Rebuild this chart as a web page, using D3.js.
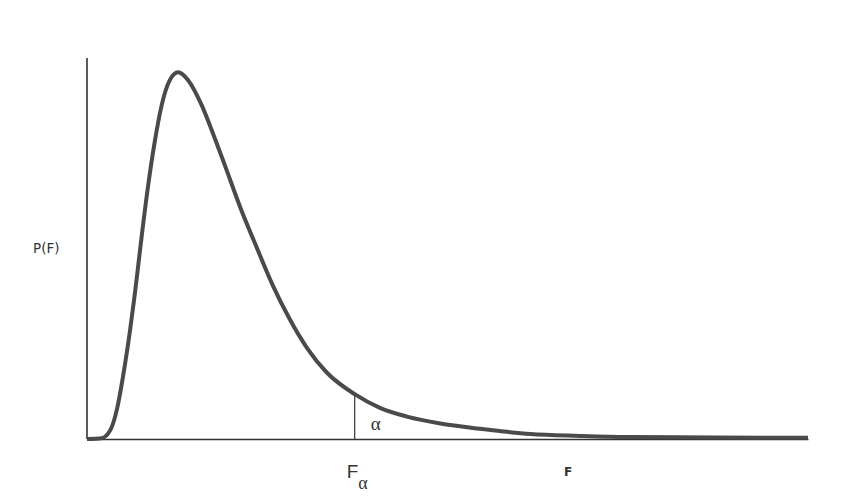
<!DOCTYPE html>
<html>
<head>
<meta charset="utf-8">
<script src="https://cdn.jsdelivr.net/npm/d3@7"></script>
<style>
  body { margin: 0; background: #fff; }
  svg { display: block; }
</style>
</head>
<body>
<svg id="chart" width="854" height="497"></svg>
<script>
// F values (x) and density P(F) (y)
const fValues = [0, 0.16, 0.26, 0.33, 0.40, 0.48, 0.53, 0.57, 0.61, 0.68, 0.75, 0.83, 0.92, 1.01,
  1.12, 1.27, 1.42, 1.53, 1.70, 1.89, 2.06, 2.25, 2.44, 2.66, 2.97, 3.25, 3.55, 3.92,
  4.22, 4.58, 4.92, 5.47, 6.0, 7.0, 8.0];
const density = [0, 0.002, 0.024, 0.076, 0.165, 0.29, 0.38, 0.46, 0.54, 0.67, 0.78, 0.88, 0.945, 0.965,
  0.945, 0.88, 0.79, 0.72, 0.61, 0.50, 0.405, 0.315, 0.24, 0.175, 0.118, 0.082, 0.059, 0.041,
  0.031, 0.021, 0.013, 0.008, 0.005, 0.004, 0.003];
const fAlpha = 2.97;

const svg = d3.select("#chart");

const x = d3.scaleLinear().domain([0, 8]).range([87, 808]);
const y = d3.scaleLinear().domain([0, 1]).range([439, 59]);

const points = fValues.map((f, i) => ({ f: f, p: density[i] }));

// axes, no ticks
svg.append("g")
    .attr("transform", `translate(0,${y(0)})`)
    .call(d3.axisBottom(x).tickValues([]).tickSizeOuter(0))
    .call(g => g.select(".domain").attr("stroke", "#333").attr("stroke-width", 1.6));

svg.append("g")
    .attr("transform", `translate(${x(0)},0)`)
    .call(d3.axisLeft(y).tickValues([]).tickSizeOuter(0))
    .call(g => g.select(".domain").attr("stroke", "#333").attr("stroke-width", 1.6))
    .call(g => g.select(".domain").attr("d", `M0,${y(0)}V58`));

// curve
const line = d3.line()
    .x(d => x(d.f))
    .y(d => y(d.p))
    .curve(d3.curveMonotoneX);

svg.append("path")
    .datum(points)
    .attr("fill", "none")
    .attr("stroke", "#4a4a4a")
    .attr("stroke-width", 4)
    .attr("stroke-linejoin", "round")
    .attr("d", line);

// critical value marker
const pAlpha = points.find(d => d.f === fAlpha).p;
svg.append("line")
    .attr("x1", x(fAlpha)).attr("x2", x(fAlpha))
    .attr("y1", y(0)).attr("y2", y(pAlpha))
    .attr("stroke", "#444")
    .attr("stroke-width", 1.3);

// labels
svg.append("text")
    .attr("x", 33).attr("y", 253)
    .attr("font-family", "DejaVu Sans, sans-serif")
    .attr("font-size", 13.5)
    .attr("fill", "#333")
    .text("P(F)");

svg.append("text")
    .attr("x", x(fAlpha) + 16).attr("y", 430)
    .attr("font-family", "Liberation Serif, serif")
    .attr("font-size", 19)
    .attr("fill", "#333")
    .text("α");

const fa = svg.append("text")
    .attr("x", x(fAlpha) - 8).attr("y", 478)
    .attr("font-family", "Liberation Sans, Arial, sans-serif")
    .attr("font-size", 19)
    .attr("fill", "#333");
fa.append("tspan").text("F");
fa.append("tspan")
    .attr("font-family", "Liberation Serif, serif")
    .attr("font-size", 18)
    .attr("dy", 11)
    .text("α");

svg.append("text")
    .attr("x", 564).attr("y", 476)
    .attr("font-family", "DejaVu Sans, sans-serif")
    .attr("font-weight", "bold")
    .attr("font-size", 12)
    .attr("fill", "#333")
    .text("F");
</script>
</body>
</html>
